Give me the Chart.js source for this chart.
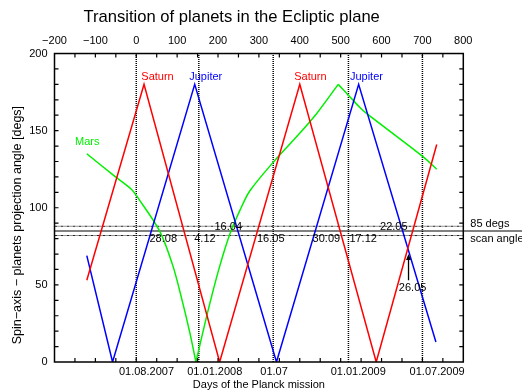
<!DOCTYPE html>
<html>
<head>
<meta charset="utf-8">
<script src="https://cdn.jsdelivr.net/npm/chart.js@4.4.1/dist/chart.umd.min.js"></script>
<style>
  html, body { margin: 0; padding: 0; background: #fff; }
  #wrap { width: 522px; height: 391px; }
</style>
</head>
<body>
<div id="wrap"><canvas id="planets"></canvas></div>
<script>
const FONT = "'Liberation Sans', Arial, sans-serif";

// days of the mission vs projection angle
const saturnDays = [-121, 19, 204, 400, 587, 735];
const saturnAngle = [53, 180, 0, 180, 0, 141];

const jupiterDays = [-121, -58, 143, 343, 544, 733];
const jupiterAngle = [69, 0, 180, 0, 180, 13];

const marsDays = [-121, -53, -12, 8, 57, 90, 114, 131, 146, 160, 180, 204, 229, 253, 278, 339, 392, 441, 494, 519, 547, 564, 702, 735];
const marsAngle = [135, 120.5, 112, 105, 85, 62, 38, 19, 0, 16, 38, 62, 83, 98, 111, 130.7, 146, 161, 180, 173, 165, 161, 133, 125];
// indices where the Mars curve has a sharp turn (minimum, maximum)
const marsCorners = [8, 18];

// calendar markers
const dateLineDays = [0, 153, 335, 519, 700];
const dateTickDays = [25, 192, 337, 543, 736];
const dateTickLabels = ['01.08.2007', '01.01.2008', '01.07', '01.01.2009', '01.07.2009'];

// scan angle band
const scanAngle = 85;
const scanBand = [82, 88];

// crossing dates written on the plot
const crossLabels = ['28.08', '4.12', '16.04', '16.05', '30.09', '17.12', '22.05', '26.05'];
const crossDays = [66, 168, 225, 329, 465, 555, 630, 676];
const crossAngles = [79.6, 79.6, 87.6, 79.6, 79.6, 79.6, 87.6, 48];

const planetNames = ['Saturn', 'Jupiter', 'Saturn', 'Jupiter', 'Mars'];
const planetNameDays = [52, 170, 426, 563, -120];
const planetNameAngles = [184.7, 184.7, 184.7, 184.7, 142.6];
const planetNameColors = ['#ff0000', '#0000ff', '#ff0000', '#0000ff', '#00f000'];

const toPoints = (xs, ys) => xs.map((x, i) => ({ x, y: ys[i] }));

const curve = (label, points, color, tension) => ({
  label,
  data: points,
  borderColor: color,
  borderWidth: 1.5,
  pointRadius: 0,
  tension: tension || 0,
  fill: false
});

const datasets = [
  curve('Saturn', toPoints(saturnDays, saturnAngle), '#ff0000'),
  curve('Jupiter', toPoints(jupiterDays, jupiterAngle), '#0000ff')
];

// Mars split at its corners so the smoothing keeps the sharp turns
const marsPoints = toPoints(marsDays, marsAngle);
const cuts = [0, ...marsCorners, marsPoints.length - 1];
for (let i = 0; i < cuts.length - 1; i++) {
  datasets.push(curve('Mars', marsPoints.slice(cuts[i], cuts[i + 1] + 1), '#00f000', 0.3));
}

dateLineDays.forEach(d => {
  datasets.push({
    data: [{ x: d, y: 0 }, { x: d, y: 200 }],
    borderColor: '#000',
    borderWidth: 1.5,
    borderDash: [1, 1],
    pointRadius: 0
  });
});

scanBand.forEach(a => {
  datasets.push({
    data: [{ x: -200, y: a }, { x: 800, y: a }],
    borderColor: '#222',
    borderWidth: 1,
    borderDash: [3, 1, 1, 1],
    pointRadius: 0
  });
});

// the 85 deg line runs out past the frame to the label
datasets.push({
  data: [{ x: -200, y: scanAngle }, { x: 945, y: scanAngle }],
  borderColor: '#808080',
  borderWidth: 2,
  pointRadius: 0,
  clip: false
});

const framePlugin = {
  id: 'frame',
  afterDatasetsDraw(chart) {
    const { ctx, chartArea: a, scales } = chart;
    const x = scales.x, y = scales.y;
    ctx.save();
    ctx.strokeStyle = '#000';
    ctx.lineWidth = 1.5;
    ctx.strokeRect(a.left, a.top, a.right - a.left, a.bottom - a.top);

    // inward ticks
    ctx.lineWidth = 1.2;
    ctx.beginPath();
    for (let v = -150; v < 800; v += 50) {
      const px = x.getPixelForValue(v);
      ctx.moveTo(px, a.top); ctx.lineTo(px, a.top + 4);
      ctx.moveTo(px, a.bottom); ctx.lineTo(px, a.bottom - 4);
    }
    for (let v = 10; v < 200; v += 10) {
      const py = y.getPixelForValue(v);
      ctx.moveTo(a.left, py); ctx.lineTo(a.left + 4, py);
      ctx.moveTo(a.right, py); ctx.lineTo(a.right - 4, py);
    }
    ctx.stroke();

    ctx.font = '11px ' + FONT;
    ctx.textBaseline = 'middle';
    ctx.textAlign = 'center';
    ctx.fillStyle = '#000';
    crossLabels.forEach((t, i) => {
      ctx.fillText(t, x.getPixelForValue(crossDays[i]), y.getPixelForValue(crossAngles[i]));
    });

    planetNames.forEach((t, i) => {
      ctx.fillStyle = planetNameColors[i];
      ctx.fillText(t, x.getPixelForValue(planetNameDays[i]), y.getPixelForValue(planetNameAngles[i]));
    });

    // arrow to 26.05
    const ax = x.getPixelForValue(666);
    const y0 = y.getPixelForValue(53), y1 = y.getPixelForValue(70);
    ctx.strokeStyle = '#000';
    ctx.fillStyle = '#000';
    ctx.lineWidth = 1.3;
    ctx.beginPath();
    ctx.moveTo(ax, y0); ctx.lineTo(ax, y1 + 4);
    ctx.stroke();
    ctx.beginPath();
    ctx.moveTo(ax, y1); ctx.lineTo(ax - 2.5, y1 + 6); ctx.lineTo(ax + 2.5, y1 + 6);
    ctx.closePath();
    ctx.fill();

    // labels to the right of the frame
    ctx.textAlign = 'left';
    ctx.fillText('85 degs', a.right + 7, y.getPixelForValue(89.3));
    ctx.fillText('scan angle', a.right + 7, y.getPixelForValue(79.6));
    ctx.restore();
  }
};

new Chart(document.getElementById('planets'), {
  type: 'line',
  data: { datasets },
  options: {
    responsive: true,
    maintainAspectRatio: false,
    animation: false,
    layout: { padding: { left: 0, right: 58.7, top: 0, bottom: 0 } },
    plugins: {
      legend: { display: false },
      tooltip: { enabled: false },
      title: {
        display: true,
        text: 'Transition of planets in the Ecliptic plane',
        color: '#000',
        font: { family: FONT, size: 16.6, weight: 'normal' },
        padding: { top: 7.5, bottom: 0 }
      }
    },
    scales: {
      x: {
        type: 'linear',
        position: 'bottom',
        min: -200,
        max: 800,
        afterBuildTicks: s => { s.ticks = dateTickDays.map(v => ({ value: v })); },
        afterFit: s => { s.height = 29; },
        grid: { display: false, drawTicks: false },
        border: { display: false },
        ticks: {
          autoSkip: false,
          maxRotation: 0,
          padding: 3,
          color: '#000',
          font: { family: FONT, size: 11 },
          callback: (v, i) => dateTickLabels[i]
        },
        title: {
          display: true,
          text: 'Days of the Planck mission',
          color: '#000',
          font: { family: FONT, size: 11 },
          padding: { top: 0, bottom: -1 }
        }
      },
      x2: {
        type: 'linear',
        position: 'top',
        min: -200,
        max: 800,
        afterFit: s => { s.height = 53.5 - 27.4; },
        grid: { display: false, drawTicks: false },
        border: { display: false },
        ticks: {
          stepSize: 100,
          padding: 6,
          color: '#000',
          font: { family: FONT, size: 11 },
          callback: v => String(v).replace('-', '\u2212')
        }
      },
      y: {
        min: 0,
        max: 200,
        afterFit: s => { s.width = 54.5; },
        grid: { display: false, drawTicks: false },
        border: { display: false },
        ticks: {
          stepSize: 50,
          padding: 7,
          color: '#000',
          font: { family: FONT, size: 11 }
        },
        title: {
          display: true,
          text: 'Spin\u2212axis \u2212 planets projection angle [degs]' + '\u00a0'.repeat(10),
          color: '#000',
          font: { family: FONT, size: 12.5 },
          padding: { top: 10.5, bottom: 0 }
        }
      }
    }
  },
  plugins: [framePlugin]
});
</script>
</body>
</html>
